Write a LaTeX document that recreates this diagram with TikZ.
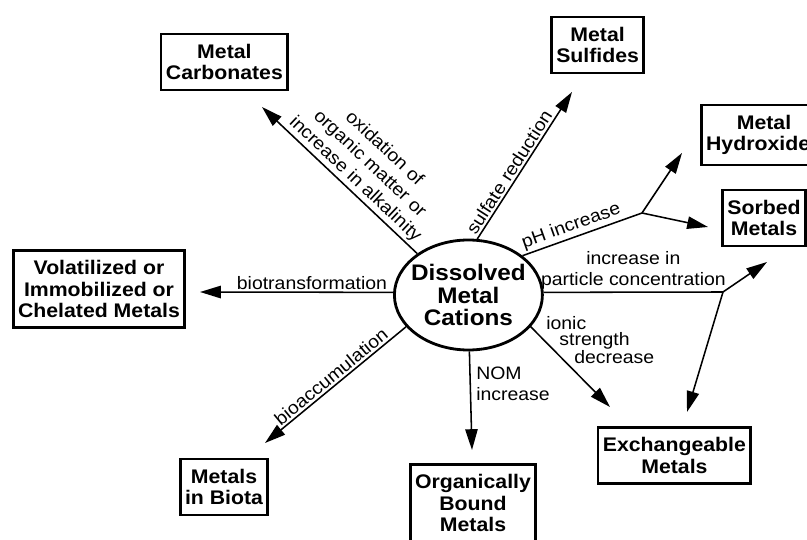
\documentclass[tikz,border=0pt]{standalone}
\usepackage{fontspec}
\setmainfont{Liberation Sans}[FakeStretch=1.08]
\usetikzlibrary{arrows.meta, shapes.geometric}

\begin{document}
\begin{tikzpicture}[
    metalbox/.style={draw, line width=2pt, align=center, inner xsep=3.5pt, inner ysep=7pt,
      font=\bfseries\fontsize{14}{15.5}\selectfont},
    flow/.style={line width=1.1pt, -{Triangle[length=0.52cm, width=0.31cm]}},
    link/.style={line width=1.1pt},
    lbl/.style={inner sep=1.5pt, font=\fontsize{12.8}{15}\selectfont}
  ]
    \useasboundingbox (0, 0) rectangle (20.175, 13.475);
    % centre
    \node[ellipse, draw, line width=2pt, minimum width=3.7cm, minimum height=2.75cm,
      inner xsep=-4pt, inner ysep=0pt, align=center,
      font=\bfseries\fontsize{16}{16}\selectfont] (diss) at (11.71, 6.1) {Dissolved\\Metal\\Cations};
    % products
    \node[metalbox] (carb) at (5.61, 11.925) {Metal\\Carbonates};
    \node[metalbox] (sulf) at (14.94, 12.35) {Metal\\Sulfides};
    \node[metalbox] (hydr) at (19.1, 10.1) {Metal\\Hydroxides};
    \node[metalbox] (sorb) at (19.1, 8.025) {Sorbed\\Metals};
    \node[metalbox] (vol) at (2.475, 6.25) {Volatilized or\\Immobilized or\\Chelated Metals};
    \node[metalbox] (biota) at (5.6, 1.3) {Metals\\in Biota};
    \node[metalbox] (org) at (11.825, 0.9) {Organically\\Bound\\Metals};
    \node[metalbox] (exch) at (16.86, 2.09) {Exchangeable\\Metals};
    % arrow ends and forks
    \coordinate (carbtip) at (6.55, 10.8);
    \coordinate (sulftip) at (14.3, 11.175);
    \coordinate (phfork) at (16.05, 8.15);
    \coordinate (hydrtip) at (17.05, 9.65);
    \coordinate (sorbtipa) at (17.7, 7.8);
    \coordinate (pcfork) at (18.075, 6.175);
    \coordinate (sorbtipb) at (19.175, 6.925);
    \coordinate (exchtipb) at (17.175, 3.175);
    \coordinate (exchtipa) at (15.25, 3.3);
    \coordinate (nomtip) at (11.8, 2.225);
    \coordinate (biotatip) at (6.625, 2.4);
    \coordinate (voltip) at (5.0, 6.175);
    % pathways
    \draw[flow] (diss.141) -- (carbtip) node[lbl, sloped, above, pos=0.45, align=center] (carblbl) {oxidation of\\organic matter or\\increase in alkalinity};
    \draw[flow] (diss.81) -- (sulftip) node[lbl, sloped, above, pos=0.42] (sulflbl) {sulfate reduction};
    \draw[link] (diss.36) -- (phfork) node[lbl, sloped, above, pos=0.44] (phlbl) {pH increase};
    \draw[flow] (phfork) -- (hydrtip);
    \draw[flow] (phfork) -- (sorbtipa);
    \draw[link] (diss.2) -- (pcfork) node[lbl, above, pos=0.5, align=center] (pclbl) {increase in\\particle concentration};
    \draw[flow] (pcfork) -- (sorbtipb);
    \draw[flow] (pcfork) -- (exchtipb);
    \draw[flow] (diss.-27) -- (exchtipa);
    \node[lbl, inner sep=0pt, anchor=north west, align=left, font=\fontsize{12.8}{11.5}\selectfont] (ioniclbl) at (13.65, 5.575) {ionic\\\hspace*{0.33cm}strength\\\hspace*{0.7cm}decrease};
    \draw[flow] (diss.-89) -- (nomtip);
    \node[lbl, inner sep=0pt, anchor=north west, align=left] (nomlbl) at (11.9, 4.3) {NOM\\increase};
    \draw[flow] (diss.-153) -- (biotatip) node[lbl, sloped, above, pos=0.49] (bioacclbl) {bioaccumulation};
    \draw[flow] (diss.178) -- (voltip) node[lbl, above, pos=0.42] (biotrlbl) {biotransformation};
\end{tikzpicture}
\end{document}
